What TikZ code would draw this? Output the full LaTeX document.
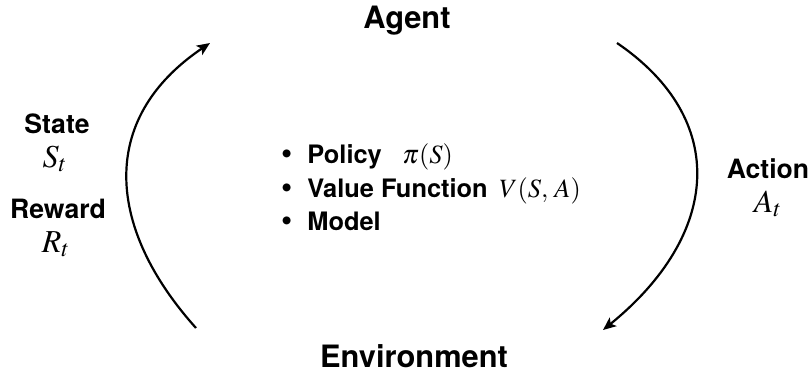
\documentclass[tikz,border=0pt]{standalone}
\usepackage{mathptmx}
\usepackage[no-math]{fontspec}
\setmainfont{TeX Gyre Heros}
\usetikzlibrary{arrows.meta}

\newcommand{\itembullet}{\llap{{\fontsize{16}{16}\selectfont\textbullet}\hspace{7.5pt}}}

\begin{document}
\begin{tikzpicture}[
    x=0.5pt, y=-0.5pt,
    title/.style={anchor=base, inner sep=0pt, font=\fontsize{15.4}{18}\selectfont\bfseries},
    signal/.style={anchor=base, inner sep=0pt, font=\fontsize{13.3}{15}\selectfont\bfseries},
    symbol/.style={anchor=base, inner sep=0pt, font=\fontsize{16}{18}\selectfont},
    item/.style={anchor=base west, inner sep=0pt, font=\fontsize{12.7}{15}\selectfont\bfseries},
    formula/.style={anchor=base west, inner sep=0pt, font=\fontsize{13.2}{15}\selectfont},
    loop arrow/.style={-{Stealth[length=6.5pt, width=5.5pt, inset=1.5pt]}, line width=1.1pt}
]
    \useasboundingbox (0,0) rectangle (810,372);

    \node[title] (agent) at (407,28) {Agent};
    \node[title] (env) at (414,367) {Environment};

    \node[signal] (state) at (57,133) {State};
    \node[symbol] (stateSym) at (55,167) {$S_t$};
    \node[signal] (reward) at (58,218) {Reward};
    \node[symbol] (rewardSym) at (56,252) {$R_t$};
    \node[signal] (action) at (768,178) {Action};
    \node[symbol] (actionSym) at (768,212) {$A_t$};

    % agent components
    \node[item] (policy) at (307,163) {\itembullet Policy};
    \node[item] (value) at (307,197) {\itembullet Value Function};
    \node[item] (model) at (307,230) {\itembullet Model};
    \node[formula] (policyFn) at (402,163) {$\pi(S)$};
    \node[formula] (valueFn) at (499,197) {$V(S,\,A)$};

    % interaction loop
    \coordinate (envL) at (196,328);
    \coordinate (agentL) at (210,43);
    \coordinate (agentR) at (617,43);
    \coordinate (envR) at (603,330);
    \draw[loop arrow] (envL) .. controls (108,230) and (96,120) .. (agentL);
    \draw[loop arrow] (agentR) .. controls (730,120) and (720,235) .. (envR);
\end{tikzpicture}
\end{document}
